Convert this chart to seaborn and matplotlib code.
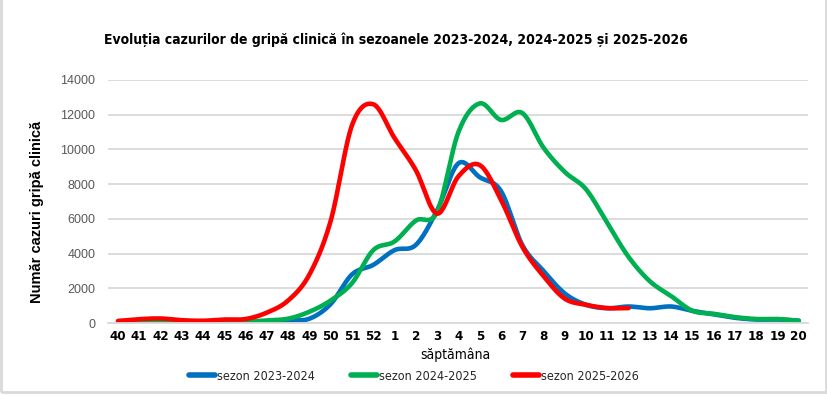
import numpy as np
import pandas as pd
import matplotlib
matplotlib.use("Agg")
import matplotlib.pyplot as plt
from matplotlib.lines import Line2D
from matplotlib.patches import Rectangle
from matplotlib.font_manager import FontProperties
import seaborn as sns

# ---- data ----
weeks = [str(w) for w in range(40, 53)] + [str(w) for w in range(1, 21)]
s2023 = [50, 50, 80, 50, 50, 80, 50, 100, 150, 250, 1100, 2800, 3350, 4200, 4500, 6500,
         9200, 8400, 7600, 4500, 3000, 1700, 1050, 850, 950, 850, 950, 700, 500, 300, 200, 200, 130]
s2024 = [30, 60, 100, 60, 60, 100, 80, 150, 250, 650, 1300, 2300, 4200, 4700, 5900, 6400,
         11000, 12650, 11700, 12100, 10100, 8700, 7700, 5750, 3800, 2400, 1550, 700, 530, 340, 230, 230, 130]
s2025 = [120, 220, 260, 160, 130, 200, 230, 600, 1300, 2800, 5900, 11400, 12600, 10650, 8800, 6300,
         8450, 9100, 7100, 4400, 2700, 1400, 1050, 860, 860]
series_names = ["sezon 2023-2024", "sezon 2024-2025", "sezon 2025-2026"]
series_vals = [s2023, s2024, s2025]
colors = ["#0070C0", "#00B050", "#FF0000"]

REG = ["Liberation Sans", "DejaVu Sans"]


def narrow(size, bold=False):
    return FontProperties(family="DejaVu Sans", stretch="condensed", size=size,
                          weight="bold" if bold else "normal")


def smooth(y, n=24):
    """Excel-like smoothed line (Catmull-Rom / Bezier) through the data points."""
    P = np.column_stack([np.arange(len(y), dtype=float), np.asarray(y, dtype=float)])
    out = []
    for i in range(len(P) - 1):
        p0 = P[i - 1] if i > 0 else P[i]
        p1, p2 = P[i], P[i + 1]
        p3 = P[i + 2] if i + 2 < len(P) else P[i + 1]
        c1 = p1 + (p2 - p0) / 6.0
        c2 = p2 - (p3 - p1) / 6.0
        t = np.linspace(0, 1, n, endpoint=(i == len(P) - 2))[:, None]
        b = (1 - t) ** 3 * p1 + 3 * (1 - t) ** 2 * t * c1 + 3 * (1 - t) * t ** 2 * c2 + t ** 3 * p2
        out.append(b)
    return np.vstack(out)


frames = []
for name, vals in zip(series_names, series_vals):
    sm = smooth(vals)
    frames.append(pd.DataFrame({"x": sm[:, 0], "y": sm[:, 1], "serie": name}))
df = pd.concat(frames, ignore_index=True)

sns.set_theme(style="white")
fig = plt.figure(figsize=(8.28, 3.96), dpi=100)
ax = fig.add_axes([108 / 828, 73 / 396, 700 / 828, 243 / 396])

for name, col in zip(series_names, colors):
    sub = df[df["serie"] == name]
    sns.lineplot(data=sub, x="x", y="y", ax=ax, color=col, lw=3.3, sort=False,
                 estimator=None, legend=False, solid_capstyle="round")

ax.set_xlim(-0.47, 32.43)
ax.set_ylim(0, 14000)
ax.set_yticks(np.arange(0, 14001, 2000))
ax.set_yticklabels([str(v) for v in range(0, 14001, 2000)], family=REG, fontsize=9, color="#595959")
ax.set_xticks(range(len(weeks)))
ax.set_xticklabels(weeks, fontproperties=narrow(9.5, True), color="black")
ax.tick_params(axis="y", length=0, pad=9)
ax.tick_params(axis="x", length=0, pad=5)
ax.grid(axis="y", color="#D9D9D9", lw=1.3)
ax.set_axisbelow(True)
for s in ["top", "right", "left"]:
    ax.spines[s].set_visible(False)
ax.spines["bottom"].set_color("#D9D9D9")
ax.spines["bottom"].set_linewidth(1.3)
ax.set_xlabel("")
ax.set_ylabel("")

fig.text(0.478, 1 - 40 / 396, "Evoluția cazurilor de gripă clinică în sezoanele 2023-2024, 2024-2025 și 2025-2026",
         ha="center", va="center", fontproperties=narrow(10, True), color="black")
fig.text(37 / 828, 1 - 212 / 396, "Număr cazuri gripă clinică", rotation=90, ha="center", va="center",
         family=REG, fontsize=10.5, fontweight="bold", color="black")
fig.text(455 / 828, 1 - 355 / 396, "săptămâna", ha="center", va="center",
         fontproperties=narrow(10), color="black")

handles = [Line2D([0], [0], color=c, lw=4, solid_capstyle="round") for c in colors]
leg = fig.legend(handles, series_names, loc="center", bbox_to_anchor=(414 / 828, 1 - 376 / 396), ncol=3,
                 frameon=False, handlelength=2.08, handletextpad=0.16, columnspacing=2.9,
                 prop=narrow(9), borderpad=0, borderaxespad=0)

fig.add_artist(Rectangle((1 / 828, 4 / 396), 825 / 828, 1.2, transform=fig.transFigure,
                         fill=False, edgecolor="#D9D9D9", lw=2))

fig.savefig("out.png", dpi=100)
